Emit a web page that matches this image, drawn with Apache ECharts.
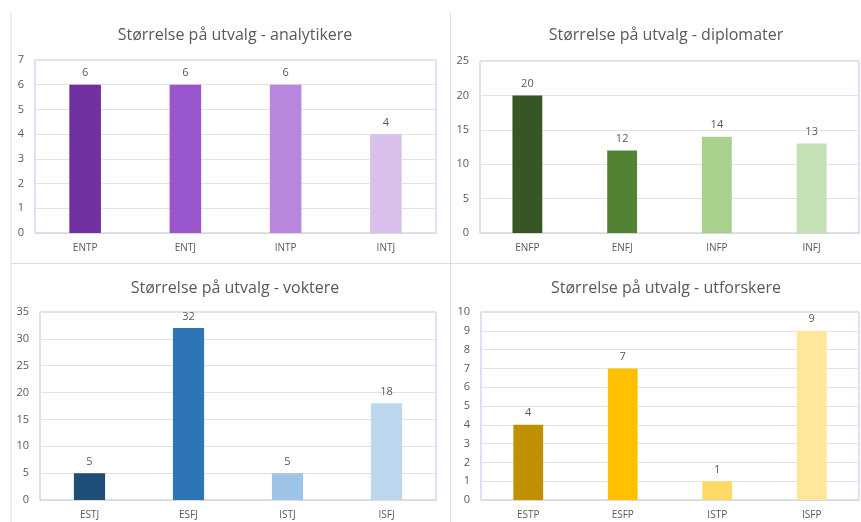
<!DOCTYPE html>
<html>
<head>
<meta charset="utf-8">
<script src="https://cdn.jsdelivr.net/npm/echarts@6/dist/echarts.min.js"></script>
<style>
  html, body { margin: 0; padding: 0; background: #fff; }
  #chart { width: 861px; height: 522px; }
</style>
</head>
<body>
<div id="chart"></div>
<script>
// panel data
var titles = [
  'Størrelse på utvalg - analytikere',
  'Størrelse på utvalg - diplomater',
  'Størrelse på utvalg - voktere',
  'Størrelse på utvalg - utforskere'
];
var analytikereTypes = ['ENTP', 'ENTJ', 'INTP', 'INTJ'];
var analytikereValues = [6, 6, 6, 4];
var diplomaterTypes = ['ENFP', 'ENFJ', 'INFP', 'INFJ'];
var diplomaterValues = [20, 12, 14, 13];
var vokterTypes = ['ESTJ', 'ESFJ', 'ISTJ', 'ISFJ'];
var vokterValues = [5, 32, 5, 18];
var utforskerTypes = ['ESTP', 'ESFP', 'ISTP', 'ISFP'];
var utforskerValues = [4, 7, 1, 9];
var yMax = [7, 25, 35, 10];
var yStep = [1, 5, 5, 1];

var palettes = [
  ['#7030a0', '#9a57cd', '#b886dc', '#d9bfec'],
  ['#375623', '#548235', '#a9d18e', '#c5e0b4'],
  ['#1f4e79', '#2e75b6', '#9dc3e6', '#bdd7ee'],
  ['#bf9000', '#ffc000', '#ffd966', '#ffe699']
];

var cats = [analytikereTypes, diplomaterTypes, vokterTypes, utforskerTypes];
var vals = [analytikereValues, diplomaterValues, vokterValues, utforskerValues];

var grids = [
  { left: 35, top: 60, width: 401, height: 173 },
  { left: 480, top: 61, width: 379, height: 172 },
  { left: 40, top: 312, width: 396, height: 188 },
  { left: 481, top: 312, width: 378, height: 188 }
];
var titlePos = [[230, 22], [661, 22], [230, 275], [661, 275]];

var font = 'Open Sans';
var txt = '#595959';

var option = {
  animation: false,
  backgroundColor: '#fff',
  title: titles.map(function (t, i) {
    return {
      text: t, left: titlePos[i][0], top: titlePos[i][1], textAlign: 'center',
      textStyle: { color: txt, fontFamily: font, fontSize: 16, fontWeight: 'normal' }
    };
  }),
  grid: grids.map(function (g) {
    return Object.assign({ show: true, borderColor: '#b4c7e7', borderWidth: 1, containLabel: false }, g);
  }),
  xAxis: cats.map(function (c, i) {
    return {
      type: 'category', gridIndex: i, data: c,
      axisTick: { show: false },
      axisLine: { lineStyle: { color: '#d9d9d9' } },
      axisLabel: { color: txt, fontFamily: font, fontSize: 10, margin: 10 }
    };
  }),
  yAxis: yMax.map(function (m, i) {
    return {
      type: 'value', gridIndex: i, min: 0, max: m, interval: yStep[i],
      axisLine: { show: false }, axisTick: { show: false },
      splitLine: { lineStyle: { color: '#e3e3e3' } },
      axisLabel: { color: txt, fontFamily: font, fontSize: 11, margin: 11 }
    };
  }),
  series: vals.map(function (v, i) {
    return {
      type: 'bar', xAxisIndex: i, yAxisIndex: i, barWidth: '31.5%',
      data: v.map(function (d, j) {
        return { value: d, itemStyle: { color: palettes[i][j] } };
      }),
      label: { show: true, position: 'top', distance: 6, color: txt, fontFamily: font, fontSize: 11 }
    };
  }),
  graphic: [
    { type: 'line', shape: { x1: 11, y1: 13, x2: 11, y2: 522 }, style: { stroke: '#dcdcdc', lineWidth: 1 } },
    { type: 'line', shape: { x1: 450.5, y1: 13, x2: 450.5, y2: 522 }, style: { stroke: '#dcdcdc', lineWidth: 1 } },
    { type: 'line', shape: { x1: 11, y1: 263.5, x2: 861, y2: 263.5 }, style: { stroke: '#dcdcdc', lineWidth: 1 } }
  ]
};

var chart = echarts.init(document.getElementById('chart'));
chart.setOption(option);
</script>
</body>
</html>
